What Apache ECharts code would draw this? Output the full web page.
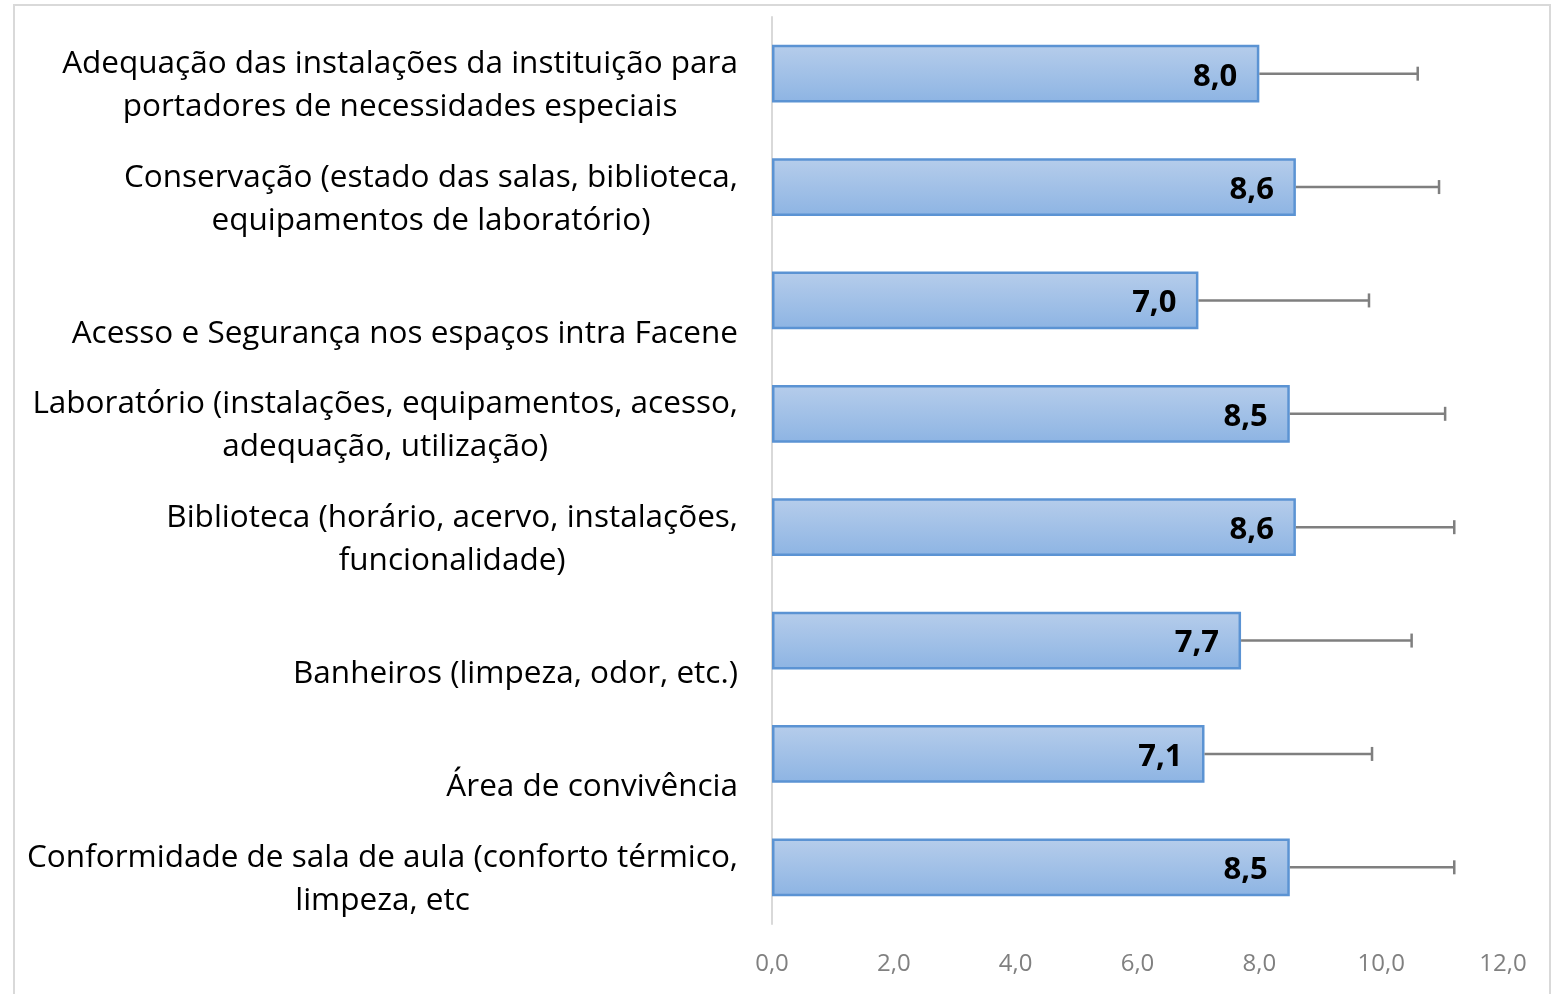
<!DOCTYPE html>
<html lang="pt">
<head>
    <meta charset="UTF-8">
    <title>Infraestrutura</title>
    <script src="https://cdn.jsdelivr.net/npm/echarts@6/dist/echarts.min.js"></script>
    <style>
        html, body { margin: 0; padding: 0; background: #fff; }
    </style>
</head>
<body>
    <div id="main" style="width: 1562px;height:994px;"></div>
    <script type="text/javascript">
        // categorias (linha em branco no início quando o rótulo tem uma linha só)
        var categorias = [
            'Adequação das instalações da instituição para\nportadores de necessidades especiais',
            'Conservação (estado das salas, biblioteca,\nequipamentos de laboratório)',
            '\nAcesso e Segurança nos espaços intra Facene',
            'Laboratório (instalações, equipamentos, acesso,\nadequação, utilização)',
            'Biblioteca (horário, acervo, instalações,\nfuncionalidade)',
            '\nBanheiros (limpeza, odor, etc.)',
            '\nÁrea de convivência',
            'Conformidade de sala de aula (conforto térmico,\nlimpeza, etc'
        ];
        var medias = [8.0, 8.6, 7.0, 8.5, 8.6, 7.7, 7.1, 8.5];
        var desvios = [2.6, 2.35, 2.8, 2.55, 2.6, 2.8, 2.75, 2.7];

        var fonte = '"Open Sans", "Noto Sans", sans-serif';
        var myChart = echarts.init(document.getElementById('main'));

        var erros = medias.map(function (v, i) { return [i, v, desvios[i]]; });

        var option = {
            animation: false,
            graphic: [{
                type: 'rect',
                shape: { x: 14, y: 5, width: 1536, height: 1010 },
                style: { fill: 'none', stroke: '#d9d9d9', lineWidth: 2 },
                silent: true
            }],
            grid: { left: 772, right: 59, top: 17, bottom: 70 },
            xAxis: {
                type: 'value',
                min: 0,
                max: 12,
                interval: 2,
                axisLine: { show: false },
                axisTick: { show: false },
                splitLine: { show: false },
                axisLabel: {
                    margin: 28,
                    color: '#808080',
                    fontFamily: fonte,
                    fontSize: 24,
                    formatter: function (v) { return v.toFixed(1).replace('.', ','); }
                }
            },
            yAxis: {
                type: 'category',
                inverse: true,
                data: categorias,
                axisLine: { lineStyle: { color: '#d9d9d9', width: 2 } },
                axisTick: { show: false },
                axisLabel: {
                    margin: 34,
                    padding: [24, 0, 0, 0],
                    formatter: function (v) {
                        return v.split('\n').map(function (l) {
                            return '{c|' + (l || ' ') + '}';
                        }).join('\n');
                    },
                    rich: {
                        c: {
                            align: 'center',
                            color: '#000',
                            fontFamily: fonte,
                            fontSize: 31.5,
                            lineHeight: 43
                        }
                    }
                }
            },
            series: [{
                type: 'bar',
                data: medias,
                barWidth: '51%',
                itemStyle: {
                    color: new echarts.graphic.LinearGradient(0, 0, 0, 1, [
                        { offset: 0, color: '#b6cdeb' },
                        { offset: 1, color: '#8db4e3' }
                    ]),
                    borderColor: '#5b93d3',
                    borderWidth: 2.5
                },
                label: {
                    show: true,
                    position: 'insideRight',
                    distance: 22,
                    offset: [0, 3],
                    color: '#000',
                    fontFamily: fonte,
                    fontWeight: 'bold',
                    fontSize: 31,
                    formatter: function (p) { return p.value.toFixed(1).replace('.', ','); }
                }
            }, {
                type: 'custom',
                data: erros,
                z: 3,
                renderItem: function (params, api) {
                    var i = api.value(0);
                    var ini = api.coord([api.value(1), i]);
                    var fim = api.coord([api.value(1) + api.value(2), i]);
                    var cap = 7;
                    var estilo = { stroke: '#7f7f7f', lineWidth: 2.5 };
                    return {
                        type: 'group',
                        children: [{
                            type: 'line',
                            shape: { x1: ini[0], y1: ini[1], x2: fim[0], y2: fim[1] },
                            style: estilo
                        }, {
                            type: 'line',
                            shape: { x1: fim[0], y1: fim[1] - cap, x2: fim[0], y2: fim[1] + cap },
                            style: estilo
                        }]
                    };
                }
            }]
        };

        myChart.setOption(option);
    </script>
</body>
</html>
